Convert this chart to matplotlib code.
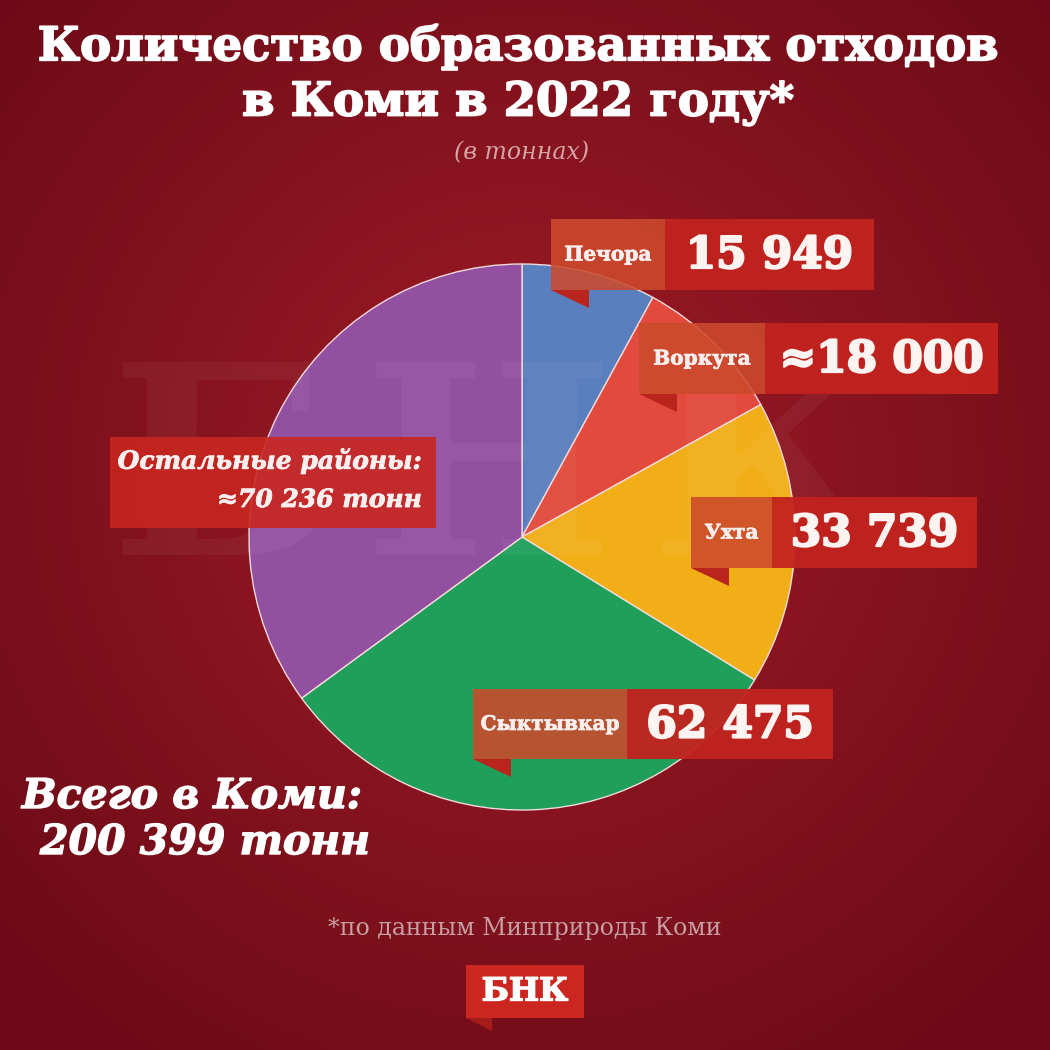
import matplotlib.pyplot as plt
import matplotlib.patheffects as pe
import numpy as np
from matplotlib.patches import Rectangle, Polygon

# Data
districts = ["Печора", "Воркута", "Ухта", "Сыктывкар", "Остальные районы"]
tonnes = [15949, 18000, 33739, 62475, 70236]
approx = [False, True, False, False, True]
total = 200399
colors = ["#5a7fbe", "#e14a3c", "#f1ae17", "#1f9f5a", "#9350a0"]

W = 1050


def Y(py):
    # pixel row (from top) -> data y
    return W - py


def fmt(v, a):
    s = f"{v:,}".replace(",", " ")
    return ("≈" + s) if a else s


def heavy(w, c="white"):
    return [pe.withStroke(linewidth=w, foreground=c)]


fig = plt.figure(figsize=(10.5, 10.5), dpi=100)
ax = fig.add_axes([0, 0, 1, 1])

# radial background
yy, xx = np.mgrid[0:W, 0:W]
r = np.hypot(xx - 525, yy - 470) / 700
r = np.clip(r, 0, 1)
c_in = np.array([0xa0, 0x1c, 0x27]) / 255
c_out = np.array([0x6c, 0x0b, 0x17]) / 255
img = c_in[None, None, :] * (1 - r[..., None]) + c_out[None, None, :] * r[..., None]
ax.imshow(img, extent=(0, W, 0, W), origin="upper", zorder=0)

# pie
ax.pie(tonnes, colors=colors, center=(522, Y(537)), radius=273,
       startangle=90, counterclock=False,
       wedgeprops=dict(edgecolor="#f3dada", linewidth=1.0, zorder=2))

# faint watermark
for ch, cx in zip("БНК", [222, 488, 770]):
    ax.text(cx, Y(482), ch, fontsize=190, fontweight="bold", family="DejaVu Serif",
            color="white", alpha=0.045, ha="center", va="center", zorder=3)

# titles
ax.text(518, Y(47), "Количество образованных отходов", fontsize=33.5, fontweight="bold",
        family="DejaVu Serif", color="white", ha="center", va="center", zorder=5,
        path_effects=heavy(1.3))
ax.text(518, Y(103), "в Коми в 2022 году*", fontsize=33.5, fontweight="bold",
        family="DejaVu Serif", color="white", ha="center", va="center", zorder=5,
        path_effects=heavy(1.3))
ax.text(522, Y(153), "(в тоннах)", fontsize=17, style="italic",
        family="DejaVu Serif", color="#d6a3a6", ha="center", va="center", zorder=5)

# tags: (x0, x_split, x1, ytop, ybot)
tags = [(551, 665, 874, 219, 290),
        (639, 765, 998, 323, 394),
        (691, 772, 977, 497, 568),
        (473, 627, 833, 689, 759)]
for i, (x0, xs, x1, yt, yb) in enumerate(tags):
    h = yb - yt
    ax.add_patch(Rectangle((x0, Y(yb)), xs - x0, h, color="#cc4a2c", alpha=0.88, lw=0, zorder=6))
    ax.add_patch(Rectangle((xs, Y(yb)), x1 - xs, h, color="#c2231e", alpha=0.95, lw=0, zorder=6))
    ax.add_patch(Polygon([(x0, Y(yb)), (x0 + 38, Y(yb)), (x0 + 38, Y(yb + 18))],
                         closed=True, color="#b9251d", lw=0, zorder=6))
    ax.text((x0 + xs) / 2, Y((yt + yb) / 2), districts[i], fontsize=14.5, fontweight="bold",
            family="DejaVu Serif", color="#fbeeee", ha="center", va="center", zorder=7,
            path_effects=heavy(0.5, "#fbeeee"))
    ax.text((xs + x1) / 2, Y((yt + yb) / 2 + 1), fmt(tonnes[i], approx[i]), fontsize=31.5,
            fontweight="bold", family="DejaVu Serif", color="#fdf3f0",
            ha="center", va="center", zorder=7, path_effects=heavy(1.6, "#fdf3f0"))

# "other districts" box
ax.add_patch(Rectangle((110, Y(528)), 326, 91, color="#c8261f", alpha=0.9, lw=0, zorder=6))
ax.text(422, Y(461), districts[4] + ":", fontsize=18, fontweight="bold", style="italic",
        family="DejaVu Serif", color="#fbeeee", ha="right", va="center", zorder=7,
        path_effects=heavy(0.6, "#fbeeee"))
ax.text(422, Y(500), fmt(tonnes[4], approx[4]) + " тонн", fontsize=18, fontweight="bold",
        style="italic", family="DejaVu Serif", color="#fbeeee", ha="right", va="center",
        zorder=7, path_effects=heavy(0.6, "#fbeeee"))

# total
ax.text(22, Y(797), "Всего в Коми:", fontsize=29.5, fontweight="bold", style="italic",
        family="DejaVu Serif", color="white", ha="left", va="center", zorder=7,
        path_effects=heavy(1.0))
ax.text(40, Y(843), fmt(total, False) + " тонн", fontsize=29.5, fontweight="bold",
        style="italic", family="DejaVu Serif", color="white", ha="left", va="center",
        zorder=7, path_effects=heavy(1.0))

# source
ax.text(525, Y(928), "*по данным Минприроды Коми", fontsize=17,
        family="DejaVu Serif", color="#c79ea2", ha="center", va="center", zorder=7)

# logo
ax.add_patch(Rectangle((466, Y(1018)), 118, 53, color="#cb261f", lw=0, zorder=6))
ax.add_patch(Polygon([(466, Y(1018)), (492, Y(1018)), (492, Y(1031))],
                     closed=True, color="#a41d1a", lw=0, zorder=6))
ax.text(525, Y(992), "БНК", fontsize=23, fontweight="bold", family="DejaVu Serif",
        color="white", ha="center", va="center", zorder=7, path_effects=heavy(1.0))

ax.set_xlim(0, W)
ax.set_ylim(0, W)
ax.set_aspect("equal")
ax.axis("off")

fig.savefig("out.png", dpi=100)
